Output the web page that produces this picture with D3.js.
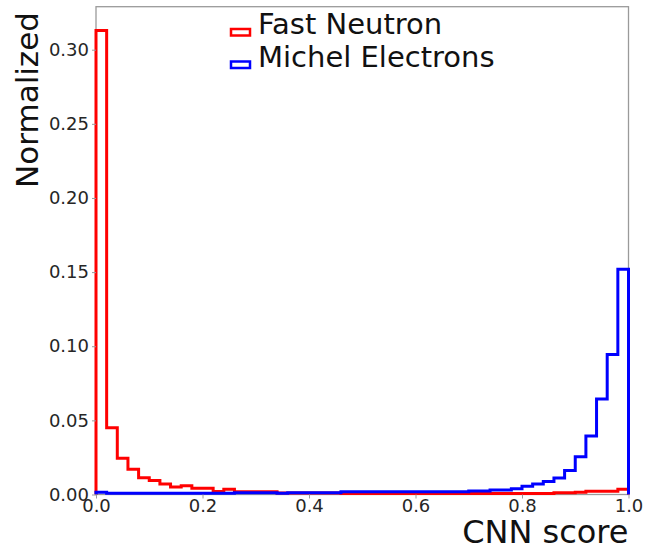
<!DOCTYPE html>
<html>
<head>
<meta charset="utf-8">
<script src="https://cdn.jsdelivr.net/npm/d3@7"></script>
<style>
  html, body { margin: 0; padding: 0; background: #fff; }
  svg { display: block; font-family: "DejaVu Sans", sans-serif; }
</style>
</head>
<body>
<svg id="chart" width="646" height="550"></svg>
<script>
// CNN score histograms (50 bins of width 0.02 over [0, 1]), normalized per sample
const binWidth = 0.02;
const fastNeutron = [
  0.313, 0.045, 0.0244, 0.017, 0.0113, 0.0095, 0.0071, 0.0051, 0.0059, 0.0042,
  0.0042, 0.0021, 0.0035, 0.0019, 0.0019, 0.0019, 0.0019, 0.0010, 0.0010, 0.0010,
  0.0010, 0.0010, 0.0010, 0.0006, 0.0006, 0.0006, 0.0006, 0.0006, 0.0006, 0.0006,
  0.0006, 0.0006, 0.0006, 0.0006, 0.0006, 0.0006, 0.0006, 0.0006, 0.0006, 0.0006,
  0.0006, 0.0006, 0.0006, 0.0012, 0.0012, 0.0016, 0.0022, 0.0022, 0.0022, 0.0035
];
const michelElectrons = [
  0.0015, 0.0008, 0.0008, 0.0008, 0.0008, 0.0008, 0.0008, 0.0008, 0.0008, 0.0008,
  0.0008, 0.0008, 0.0008, 0.0012, 0.0012, 0.0012, 0.0012, 0.0008, 0.0012, 0.0012,
  0.0012, 0.0012, 0.0012, 0.0018, 0.0018, 0.0018, 0.0018, 0.0018, 0.0018, 0.0018,
  0.0018, 0.0018, 0.0018, 0.0018, 0.0018, 0.0023, 0.0023, 0.0031, 0.0031, 0.0039,
  0.0055, 0.0071, 0.0087, 0.0112, 0.0162, 0.0255, 0.0395, 0.0644, 0.0945, 0.152
];
const seriesNames = ["Fast Neutron", "Michel Electrons"];
const seriesColors = ["#ff0000", "#0000ff"];
const xTicks = [0, 0.2, 0.4, 0.6, 0.8, 1.0];
const yTicks = [0, 0.05, 0.10, 0.15, 0.20, 0.25, 0.30];

const W = 646, H = 550;
const margin = { left: 96, right: 17.5, top: 6.7, bottom: 55.5 };
const svg = d3.select("#chart");

const x = d3.scaleLinear().domain([0, 1]).range([margin.left, W - margin.right]);
const y = d3.scaleLinear().domain([0, 0.329]).range([H - margin.bottom, margin.top]);

// frame (drawn under the histogram outlines)
svg.append("rect")
  .attr("x", x(0)).attr("y", y(0.329))
  .attr("width", x(1) - x(0)).attr("height", y(0) - y(0.329))
  .attr("fill", "none").attr("stroke", "#9a9a9a").attr("stroke-width", 1.3);

// step outline of a histogram: open at the bottom, like an unfilled step histogram
function stepPoints(values) {
  const pts = [[0, 0]];
  values.forEach((v, i) => {
    pts.push([i * binWidth, v]);
    pts.push([(i + 1) * binWidth, v]);
  });
  pts.push([values.length * binWidth, 0]);
  return pts;
}
const line = d3.line().x(d => x(d[0])).y(d => y(d[1]));

const plot = svg.append("g");
[fastNeutron, michelElectrons].forEach((vals, k) => {
  plot.append("path")
    .datum(stepPoints(vals))
    .attr("d", line)
    .attr("fill", "none")
    .attr("stroke", seriesColors[k])
    .attr("stroke-width", 3)
    .attr("stroke-linejoin", "miter");
});

// axes
const xAxis = svg.append("g")
  .attr("transform", `translate(0,${y(0)})`)
  .call(d3.axisBottom(x).tickValues(xTicks).tickFormat(d3.format(".1f")).tickSize(4).tickPadding(1));
const yAxis = svg.append("g")
  .attr("transform", `translate(${x(0)},0)`)
  .call(d3.axisLeft(y).tickValues(yTicks).tickFormat(d3.format(".2f")).tickSize(4).tickPadding(3));
[xAxis, yAxis].forEach(g => {
  g.select(".domain").remove();
  g.selectAll(".tick line").attr("stroke", "#9a9a9a");
  g.selectAll(".tick text")
    .attr("fill", "#262626")
    .style("font-size", "18px")
    .style("font-family", "DejaVu Sans, sans-serif");
});

// axis titles
svg.append("text")
  .attr("x", x(1)).attr("y", 542.5)
  .attr("text-anchor", "end")
  .attr("fill", "#111")
  .style("font-size", "32px")
  .text("CNN score");
svg.append("text")
  .attr("transform", `translate(38,${100}) rotate(-90)`)
  .attr("text-anchor", "middle")
  .attr("fill", "#111")
  .style("font-size", "31px")
  .text("Normalized");

// legend
const legend = svg.append("g").attr("transform", "translate(231,0)");
seriesNames.forEach((name, k) => {
  const row = legend.append("g").attr("transform", `translate(0,${k * 32.5})`);
  row.append("rect")
    .attr("x", 0).attr("y", 29).attr("width", 19).attr("height", 6.5)
    .attr("fill", "none").attr("stroke", seriesColors[k]).attr("stroke-width", 2.5);
  row.append("text")
    .attr("x", 27).attr("y", 34)
    .attr("fill", "#111")
    .style("font-size", "29px")
    .text(name);
});
</script>
</body>
</html>
